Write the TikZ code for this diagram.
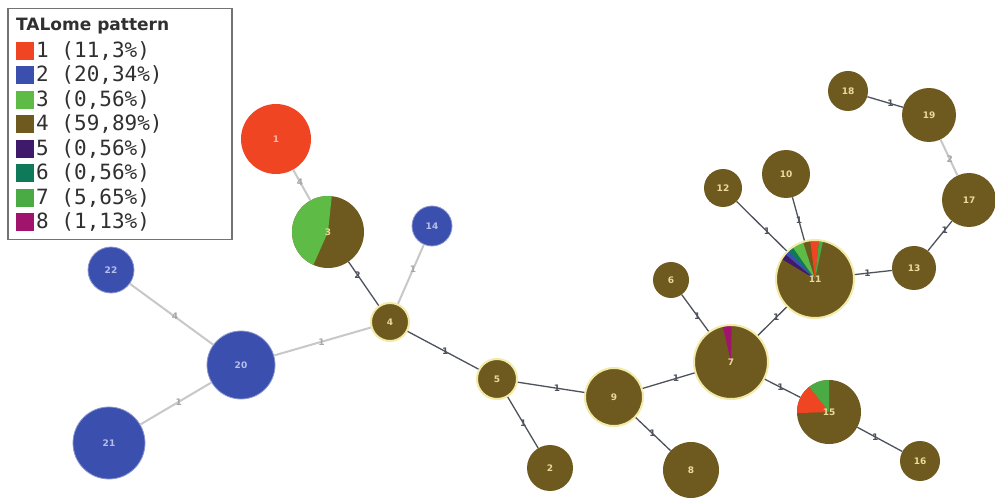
\documentclass[tikz,border=0pt]{standalone}
\usepackage{fontspec}
\newfontfamily\legmono{DejaVu Sans Mono}
\newfontfamily\legsans{DejaVu Sans}
\definecolor{c1}{HTML}{F04523}
\definecolor{c2}{HTML}{3B4FAF}
\definecolor{c3}{HTML}{5DBB46}
\definecolor{c4}{HTML}{6E5A1E}
\definecolor{c5}{HTML}{3F1A6B}
\definecolor{c6}{HTML}{0E7A5A}
\definecolor{c7}{HTML}{4AAA44}
\definecolor{c8}{HTML}{A0146E}
\definecolor{labbr}{HTML}{EADB9A}
\definecolor{labbl}{HTML}{B8C0E8}
\definecolor{labrd}{HTML}{F8B8A8}
\definecolor{halo}{HTML}{F2EBA8}
\definecolor{edk}{HTML}{4D525C}
\definecolor{elt}{HTML}{C8C8C8}
\definecolor{legtxt}{HTML}{303030}
\newcommand\pieslice[3]{\fill[#1] (path picture bounding box.center) -- ++(#2:50pt) arc[start angle=#2, end angle=#3, radius=50pt] -- cycle;}
\begin{document}
\begin{tikzpicture}[x=1pt,y=1pt,
  hap/.style={circle, inner sep=0pt, minimum size=#1pt, font=\legsans\bfseries\fontsize{9}{10}\selectfont},
  brn/.style={fill=c4, text=labbr},
  blu/.style={fill=c2, text=labbl, draw=c2!60!white, line width=0.8pt},
  hal/.style={draw=halo, line width=2pt},
  dk/.style={draw=edk, line width=1.3pt},
  lt/.style={draw=elt, line width=2pt},
  el/.style={font=\legsans\bfseries\fontsize{9}{10}\selectfont, text=edk, inner sep=0pt},
  elg/.style={font=\legsans\bfseries\fontsize{9}{10}\selectfont, text=black!35, inner sep=0pt},
  legsq/.style={minimum size=18pt, inner sep=0pt},
  legtx/.style={anchor=west, inner sep=0pt, text=legtxt, font=\legmono\fontsize{21}{24}\selectfont}
]
\useasboundingbox (0,0) rectangle (995,-502);
\fill[white] (0,0) rectangle (995,-502);

% nodes
\node[hap=70, fill=c1, text=labrd] (n1) at (276,-139) {1};
\node[hap=72, brn, path picture={\pieslice{c3}{84}{246}}] (n3) at (328,-232) {3};
\node[hap=40, blu] (n14) at (432,-226) {14};
\node[hap=38, brn, hal] (n4) at (390,-322) {4};
\node[hap=46, blu] (n22) at (111,-270) {22};
\node[hap=68, blu] (n20) at (241,-365) {20};
\node[hap=72, blu] (n21) at (109,-443) {21};
\node[hap=40, brn, hal] (n5) at (497,-379) {5};
\node[hap=46, brn] (n2) at (550,-468) {2};
\node[hap=58, brn, hal] (n9) at (614,-397) {9};
\node[hap=56, brn] (n8) at (691,-470) {8};
\node[hap=74, brn, hal, path picture={\pieslice{c8}{89}{103}}] (n7) at (731,-362) {7};
\node[hap=36, brn] (n6) at (671,-280) {6};
\node[hap=38, brn] (n12) at (723,-188) {12};
\node[hap=48, brn] (n10) at (786,-174) {10};
\node[hap=78, brn, hal, path picture={\pieslice{c5}{140}{149}\pieslice{c2}{133}{140}\pieslice{c6}{125}{133}\pieslice{c3}{108}{125}\pieslice{c1}{84}{97}\pieslice{c7}{78}{84}}] (n11) at (815,-279) {11};
\node[hap=44, brn] (n13) at (914,-268) {13};
\node[hap=54, brn] (n17) at (969,-200) {17};
\node[hap=54, brn] (n19) at (929,-115) {19};
\node[hap=40, brn] (n18) at (848,-91) {18};
\node[hap=64, brn, path picture={\pieslice{c1}{128}{182}\pieslice{c7}{90}{128}}] (n15) at (829,-412) {15};
\node[hap=40, brn] (n16) at (920,-461) {16};

% edges
\draw[lt] (n1) -- node[elg, pos=0.4] {4} (n3);
\draw[dk] (n3) -- node[el, pos=0.3] {2} (n4);
\draw[lt] (n4) -- node[elg, pos=0.58] {1} (n14);
\draw[lt] (n4) -- node[elg, pos=0.51] {1} (n20);
\draw[lt] (n20) -- node[elg, pos=0.46] {4} (n22);
\draw[lt] (n20) -- node[elg, pos=0.46] {1} (n21);
\draw[dk] (n4) -- node[el, pos=0.53] {1} (n5);
\draw[dk] (n5) -- node[el, pos=0.59] {1} (n9);
\draw[dk] (n5) -- node[el, pos=0.51] {1} (n2);
\draw[dk] (n9) -- node[el, pos=0.48] {1} (n8);
\draw[dk] (n9) -- node[el, pos=0.64] {1} (n7);
\draw[dk] (n7) -- node[el, pos=0.42] {1} (n6);
\draw[dk] (n7) -- node[el, pos=0.64] {1} (n11);
\draw[dk] (n7) -- node[el, pos=0.44] {1} (n15);
\draw[dk] (n15) -- node[el, pos=0.4] {1} (n16);
\draw[dk] (n11) -- node[el, pos=0.39] {1} (n12);
\draw[dk] (n11) -- node[el, pos=0.46] {1} (n10);
\draw[dk] (n11) -- node[el, pos=0.34] {1} (n13);
\draw[dk] (n13) -- node[el, pos=0.7] {1} (n17);
\draw[lt] (n17) -- node[elg, pos=0.45] {2} (n19);
\draw[dk] (n19) -- node[el, pos=0.35] {1} (n18);

% legend
\node[draw=black!55, line width=1.5pt, fill=white, minimum width=224pt, minimum height=231pt, inner sep=0pt, anchor=north west] (leg) at (7,-8) {};
\node[anchor=west, inner sep=0pt, text=legtxt, font=\legsans\bfseries\fontsize{17}{20}\selectfont] (legt) at (16,-26) {TALome pattern};
\foreach \c/\t/\y [count=\i] in {c1/{1 (11,3\%)}/51, c2/{2 (20,34\%)}/75.5, c3/{3 (0,56\%)}/100, c4/{4 (59,89\%)}/124.5, c5/{5 (0,56\%)}/149, c6/{6 (0,56\%)}/173.5, c7/{7 (5,65\%)}/198, c8/{8 (1,13\%)}/222.5}{
  \node[legsq, fill=\c] (lsq\i) at (25,-\y) {};
  \node[legtx] (ltx\i) at (36,-\y) {\t};
}
\end{tikzpicture}
\end{document}
